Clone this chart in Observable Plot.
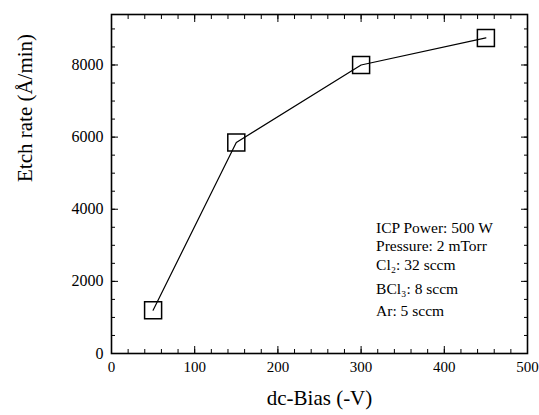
<!DOCTYPE html>
<html><head><meta charset="utf-8">
<script src="https://cdn.jsdelivr.net/npm/d3@7"></script>
<script src="https://cdn.jsdelivr.net/npm/@observablehq/plot@0.6"></script>
<style>body{margin:0;background:#fff} svg, svg text{font-family:"Liberation Serif","Times New Roman",serif !important}</style>
</head><body><div id="chart"></div>
<script>
const bias = [50, 150, 300, 450];
const etchRate = [1200, 5850, 8000, 8750];
const xTicks = [0, 100, 200, 300, 400, 500];
const yTicks = [0, 2000, 4000, 6000, 8000];
const notes = ["ICP Power: 500 W", "Pressure: 2 mTorr", "Cl\u2082: 32 sccm", "BCl\u2083: 8 sccm", "Ar: 5 sccm"];
const noteY = [3490, 2985, 2460, 1800, 1170];

const data = bias.map((b, i) => ({b, r: etchRate[i]}));
const xMinor = d3.range(0, 501, 20);
const yMinor = d3.range(0, 9401, 500);
const font = "'Liberation Serif', 'Times New Roman', serif";

const chart = Plot.plot({
  width: 539, height: 415,
  marginLeft: 111, marginRight: 12, marginTop: 14, marginBottom: 62,
  style: {fontFamily: font, fontSize: "15px", color: "black", background: "white"},
  x: {domain: [0, 500]},
  y: {domain: [0, 9400]},
  marks: [
    Plot.frame({stroke: "black", strokeWidth: 1.6}),
    Plot.axisX({anchor: "bottom", ticks: xTicks, tickSize: -7, text: null, label: null}),
    Plot.axisX({anchor: "bottom", ticks: xMinor, tickSize: -4, text: null, label: null}),
    Plot.axisX({anchor: "top", ticks: xTicks, tickSize: -7, text: null, label: null}),
    Plot.axisX({anchor: "top", ticks: xMinor, tickSize: -4, text: null, label: null}),
    Plot.axisY({anchor: "left", ticks: yTicks, tickSize: -7, text: null, label: null}),
    Plot.axisY({anchor: "left", ticks: yMinor, tickSize: -4, text: null, label: null}),
    Plot.axisY({anchor: "right", ticks: yTicks, tickSize: -7, text: null, label: null}),
    Plot.axisY({anchor: "right", ticks: yMinor, tickSize: -4, text: null, label: null}),
    Plot.axisX({anchor: "bottom", ticks: xTicks, tickSize: 0, tickPadding: 8, tickFormat: d => String(d), label: null, fontSize: 15, fontFamily: font}),
    Plot.axisY({anchor: "left", ticks: yTicks, tickSize: 0, tickPadding: 8, tickFormat: d => String(d), label: null, fontSize: 16, fontFamily: font}),
    Plot.text(["dc-Bias (-V)"], {frameAnchor: "bottom", dy: 51, fontSize: 21, fontFamily: font, text: d => d}),
    Plot.text(["Etch rate (Å/min)"], {frameAnchor: "left", dx: -86, dy: -2, rotate: -90, fontSize: 21, fontFamily: font, text: d => d}),
    Plot.line(data, {x: "b", y: "r", stroke: "black", strokeWidth: 1.2}),
    Plot.dot(data, {x: "b", y: "r", symbol: "square", r: 9.6, stroke: "black", strokeWidth: 1.5, fill: "none"}),
    Plot.text(notes, {x: 318, y: (d, i) => noteY[i], text: d => d, textAnchor: "start", fontSize: 15.5, fontFamily: font})
  ]
});
document.getElementById("chart").append(chart);
</script>
</body></html>
